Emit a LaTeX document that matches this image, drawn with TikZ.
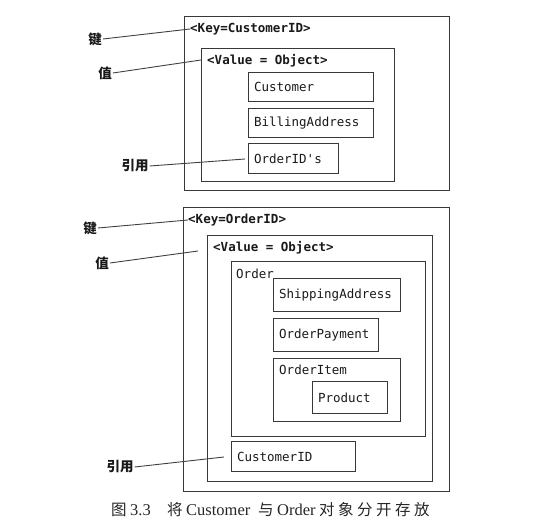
\documentclass[tikz,border=0pt]{standalone}
\usepackage{fontspec}
\setmainfont{Liberation Serif}
\setmonofont{DejaVu Sans Mono}
\newfontfamily\cjk{Noto Sans CJK SC}
\begin{document}
\begin{tikzpicture}[x=1pt,y=-1pt,
  box/.style={draw=black!78,line width=1.1pt,anchor=north west,inner sep=0pt},
  tbox/.style={draw=black!78,line width=1.1pt,anchor=north west,inner xsep=5.5pt,inner ysep=0pt,
     font=\ttfamily\fontsize{12.5}{14}\selectfont,text=black!90,align=left},
  mono/.style={anchor=west,inner sep=0pt,font=\ttfamily\fontsize{12.5}{14}\selectfont,text=black!90},
  monob/.style={mono,font=\ttfamily\bfseries\fontsize{12.5}{14}\selectfont},
  lab/.style={inner sep=1pt,font=\cjk\bfseries\fontsize{13.5}{15}\selectfont,text=black!90},
  lead/.style={draw=black!75,line width=0.9pt}]
\useasboundingbox (0,0) rectangle (554,529);

% ---------- top diagram ----------
\node[box,minimum width=265pt,minimum height=174pt] (out1) at (184,16) {};
\node[monob] (key1) at (190,29) {<Key=CustomerID>};
\node[box,minimum width=193pt,minimum height=133pt] (val1) at (201,48) {};
\node[monob] (vt1) at (207,61) {<Value = Object>};
\node[tbox,minimum height=29pt,text width=114pt] (cust) at (248,72) {Customer};
\node[tbox,minimum height=29pt,text width=114pt] (bill) at (248,108) {BillingAddress};
\node[tbox,minimum height=30pt,text width=79pt] (oid) at (248,143) {OrderID's};

\node[lab] (k1) at (95,39) {键};
\node[lab] (v1) at (105,73) {值};
\node[lab] (r1) at (135,166) {引用};
\coordinate (v1e) at (201,60);
\coordinate (r1e) at (245,159);
\draw[lead] (k1.east) -- (key1.west);
\draw[lead] (v1.east) -- (v1e);
\draw[lead] (r1.east) -- (r1e);

% ---------- bottom diagram ----------
\node[box,minimum width=266pt,minimum height=284pt] (out2) at (183,207) {};
\node[monob] (key2) at (188,220) {<Key=OrderID>};
\node[box,minimum width=225pt,minimum height=246pt] (val2) at (207,235) {};
\node[monob] (vt2) at (213,248) {<Value = Object>};
\node[box,minimum width=194pt,minimum height=175pt] (ord) at (231,261) {};
\node[mono] (ordt) at (236,274) {Order};
\node[tbox,minimum height=33pt,text width=116pt] (ship) at (273,278) {ShippingAddress};
\node[tbox,minimum height=33pt,text width=94pt] (pay) at (273,318) {OrderPayment};
\node[box,minimum width=127pt,minimum height=63pt] (item) at (273,358) {};
\node[mono] (itemt) at (279,370) {OrderItem};
\node[tbox,minimum height=32pt,text width=64pt] (prod) at (312,381) {Product};
\node[tbox,minimum height=30pt,text width=113pt] (cid) at (231,441) {CustomerID};

\node[lab] (k2) at (90,228) {键};
\node[lab] (v2) at (102,263) {值};
\node[lab] (r2) at (120,467) {引用};
\coordinate (v2e) at (198,251);
\coordinate (r2e) at (224,457);
\draw[lead] (k2.east) -- (key2.west);
\draw[lead] (v2.east) -- (v2e);
\draw[lead] (r2.east) -- (r2e);

% ---------- caption ----------
\node[anchor=west,inner sep=0pt,font=\fontsize{16.5}{18}\selectfont,text=black!85] (cap) at (111,510)
 {\makebox[19pt][l]{\cjk\fontsize{15.5}{18}\selectfont 图}\makebox[37pt][l]{3.3}%
  \makebox[19pt][l]{\cjk\fontsize{15.5}{18}\selectfont 将}\makebox[72pt][l]{Customer}%
  \makebox[19pt][l]{\cjk\fontsize{15.5}{18}\selectfont 与}\makebox[42pt][l]{Order}%
  {\cjk\fontsize{15.5}{18}\selectfont\makebox[19pt][l]{对}\makebox[19pt][l]{象}\makebox[19pt][l]{分}\makebox[19pt][l]{开}\makebox[19pt][l]{存}\makebox[19pt][l]{放}}};
\end{tikzpicture}
\end{document}
